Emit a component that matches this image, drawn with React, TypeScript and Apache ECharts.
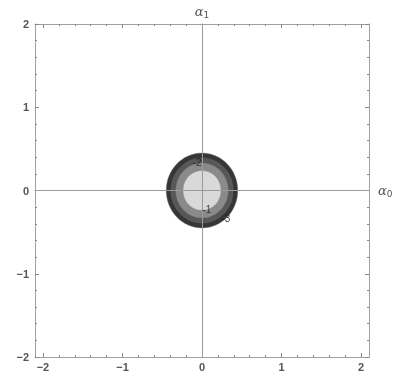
import React, { useEffect, useRef } from "react";
import * as echarts from "echarts";

// contour bands (outermost first): radius in data units and fill
const bandRadii = [0.45, 0.39, 0.33, 0.24];
const bandColors = ["#363636", "#575757", "#8a8a8a", "#d9d9d9"];
// contour labels: x, y, text
const contourLabels: [number, number, string][] = [
  [-0.06, 0.34, "-2"],
  [0.06, -0.23, "-1"],
  [0.3, -0.335, "-3"],
];
const majorTicks = [-2, -1, 0, 1, 2];
const minorTicksX = [-1.8, -1.6, -1.4, -1.2, -0.8, -0.6, -0.4, -0.2, 0.2, 0.4, 0.6, 0.8, 1.2, 1.4, 1.6, 1.8];
const minorTicksY = [-1.8, -1.6, -1.4, -1.2, -0.8, -0.6, -0.4, -0.2, 0.2, 0.4, 0.6, 0.8, 1.2, 1.4, 1.6, 1.8];

const frameColor = "#a0a0a0";
const labelColor = "#555";

function fmt(v: number) {
  return v < 0 ? "\u2212" + Math.abs(v) : String(v);
}

const nameRich = {
  a: { fontSize: 13, fontStyle: "italic", color: labelColor, fontFamily: "DejaVu Serif, serif" },
  s: { fontSize: 9, color: labelColor, fontFamily: "DejaVu Sans, sans-serif", padding: [6, 0, 0, 0] },
};

export default function App() {
  const ref = useRef<HTMLDivElement>(null);
  useEffect(() => {
    const chart = echarts.init(ref.current!, null, { renderer: "svg" });
    const frameAxis = (pos: string, ticks: number[], len: number, showLine: boolean, labels: boolean, isX: boolean) => ({
      type: "value",
      position: pos,
      min: isX ? -2.1 : -2,
      max: isX ? 2.1 : 2,
      axisLine: { show: showLine, onZero: false, lineStyle: { color: frameColor, width: 1 } },
      axisTick: { show: true, inside: true, length: len, customValues: ticks, lineStyle: { color: "#888", width: 1 } },
      axisLabel: labels
        ? {
            show: true,
            customValues: majorTicks,
            formatter: fmt,
            color: labelColor,
            fontSize: 11,
            fontWeight: "bold",
            fontFamily: "Liberation Sans, Arial, sans-serif",
            margin: isX ? 4 : 6,
          }
        : { show: false },
      splitLine: { show: false },
    });
    const option: any = {
      animation: false,
      grid: { left: 35, top: 24, width: 334, height: 333 },
      xAxis: [
        frameAxis("bottom", majorTicks, 4, true, true, true),
        frameAxis("bottom", minorTicksX, 2, false, false, true),
        frameAxis("top", majorTicks, 4, true, false, true),
        frameAxis("top", minorTicksX, 2, false, false, true),
        {
          type: "value",
          position: "bottom",
          min: -2.1,
          max: 2.1,
          z: 5,
          axisLine: { show: true, onZero: true, onZeroAxisIndex: 0, lineStyle: { color: "#9a9a9a", width: 1 } },
          axisTick: { show: false },
          axisLabel: { show: false },
          splitLine: { show: false },
          name: "{a|\u03b1}{s|0}",
          nameLocation: "end",
          nameGap: 9,
          nameTextStyle: { rich: nameRich },
        },
      ],
      yAxis: [
        frameAxis("left", majorTicks, 4, true, true, false),
        frameAxis("left", minorTicksY, 2, false, false, false),
        frameAxis("right", majorTicks, 4, true, false, false),
        frameAxis("right", minorTicksY, 2, false, false, false),
        {
          type: "value",
          position: "left",
          min: -2,
          max: 2,
          z: 5,
          axisLine: { show: true, onZero: true, onZeroAxisIndex: 0, lineStyle: { color: "#9a9a9a", width: 1 } },
          axisTick: { show: false },
          axisLabel: { show: false },
          splitLine: { show: false },
          name: "{a|\u03b1}{s|1}",
          nameLocation: "end",
          nameGap: 5,
          nameTextStyle: { rich: nameRich, align: "center" },
        },
      ],
      series: [
        {
          type: "custom",
          xAxisIndex: 0,
          yAxisIndex: 0,
          z: 2,
          data: bandRadii.map((r, i) => [0, 0, r, i]),
          encode: { x: 0, y: 1 },
          renderItem: (params: any, api: any) => {
            const c = api.coord([api.value(0), api.value(1)]);
            const r = api.value(2);
            const s = api.size([r, r]);
            return {
              type: "ellipse",
              shape: { cx: c[0], cy: c[1], rx: s[0], ry: s[1] },
              style: { fill: bandColors[api.value(3)], stroke: "rgba(120,120,120,0.6)", lineWidth: 0.6 },
            };
          },
        },
        {
          type: "scatter",
          xAxisIndex: 0,
          yAxisIndex: 0,
          z: 10,
          symbolSize: 0,
          data: contourLabels.map((d) => [d[0], d[1], d[2]]),
          label: {
            show: true,
            position: "inside",
            formatter: (p: any) => p.data[2],
            color: "#1a1a1a",
            fontSize: 10,
            fontFamily: "Liberation Sans, Arial, sans-serif",
          },
        },
      ],
    };
    chart.setOption(option);
    return () => chart.dispose();
  }, []);
  return <div ref={ref} style={{ position: "fixed", left: 0, top: 0, width: 406, height: 379 }} />;
}
